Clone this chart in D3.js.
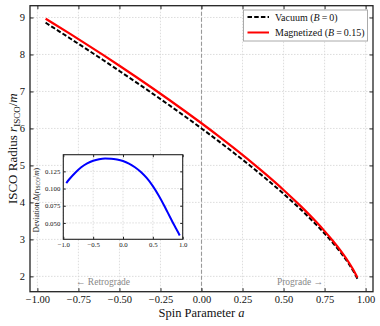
<!DOCTYPE html>
<html>
<head>
<meta charset="utf-8">
<script src="https://cdn.jsdelivr.net/npm/d3@7"></script>
<style>
  body { margin: 0; background: #fff; }
  svg { display: block; font-family: "Liberation Serif", "DejaVu Serif", serif; }
  .grid line { stroke: #d4d4d4; stroke-width: 0.8; stroke-dasharray: 1.5,1.5; }
  .ax line { stroke: #222; }
  .ax text { font-family: "Liberation Serif", "DejaVu Serif", serif; fill: #111; }
</style>
</head>
<body>
<svg width="380" height="326"></svg>
<script>
// spin values sampled along the curves
var spin = [-0.95, -0.9, -0.8, -0.7, -0.6, -0.5, -0.4, -0.3, -0.2, -0.1, 0,
            0.1, 0.2, 0.3, 0.4, 0.5, 0.6, 0.7, 0.75, 0.8, 0.85, 0.9, 0.925, 0.95];

var vacuum = [8.859, 8.717, 8.432, 8.143, 7.851, 7.554, 7.254, 6.949, 6.639, 6.323, 6.000,
              5.670, 5.329, 4.979, 4.614, 4.233, 3.829, 3.393, 3.158, 2.907, 2.633, 2.321, 2.143, 1.937];

var magnetized = [8.967, 8.831, 8.555, 8.274, 7.988, 7.695, 7.397, 7.093, 6.782, 6.465, 6.140,
                  5.806, 5.460, 5.103, 4.729, 4.337, 3.919, 3.467, 3.223, 2.964, 2.681, 2.361, 2.179, 1.969];

var deviation = [0.108, 0.1135, 0.123, 0.131, 0.1367, 0.1405, 0.1427, 0.1436, 0.1434, 0.1422, 0.140,
                 0.1363, 0.131, 0.124, 0.115, 0.1035, 0.0895, 0.0735, 0.065, 0.0565, 0.048, 0.040, 0.036, 0.0318];

var xTicks = [-1, -0.75, -0.5, -0.25, 0, 0.25, 0.5, 0.75, 1];
var yTicks = [2, 3, 4, 5, 6, 7, 8, 9];
var insetXTicks = [-1, -0.5, 0, 0.5, 1];
var insetYTicks = [0.05, 0.075, 0.1, 0.125];

var svg = d3.select("svg");
var minus = function(s){ return s.replace("-", "\u2212"); };

// main panel
var L = 30, R = 373, T = 5.7, B = 291.7;
var x = d3.scaleLinear().domain([-1.045, 1.045]).range([L, R]);
var y = d3.scaleLinear().domain([1.5855, 9.3185]).range([B, T]);

var grid = svg.append("g").attr("class", "grid");
grid.selectAll(".gx").data(xTicks).enter().append("line")
  .attr("x1", function(d){ return x(d); }).attr("x2", function(d){ return x(d); })
  .attr("y1", T).attr("y2", B);
grid.selectAll(".gy").data(yTicks).enter().append("line")
  .attr("y1", function(d){ return y(d); }).attr("y2", function(d){ return y(d); })
  .attr("x1", L).attr("x2", R);

// a = 0 divider
svg.append("line")
  .attr("x1", x(0)).attr("x2", x(0)).attr("y1", T).attr("y2", B)
  .attr("stroke", "#999").attr("stroke-width", 1.1).attr("stroke-dasharray", "4,2");

var line = function(vals) {
  return d3.line()
    .x(function(d, i){ return x(spin[i]); })
    .y(function(d){ return y(d); })
    .curve(d3.curveMonotoneX)(vals);
};

svg.append("path").attr("d", line(vacuum))
  .attr("fill", "none").attr("stroke", "#000").attr("stroke-width", 2)
  .attr("stroke-dasharray", "4.5,2.2");
svg.append("path").attr("d", line(magnetized))
  .attr("fill", "none").attr("stroke", "#ff0000").attr("stroke-width", 2.2);

// region notes
svg.append("text").attr("x", x(-0.6)).attr("y", y(1.85) + 3.5)
  .attr("text-anchor", "middle").attr("font-size", 9.5).attr("fill", "#888")
  .text("\u2190 Retrograde");
svg.append("text").attr("x", x(0.6)).attr("y", y(1.85) + 3.5)
  .attr("text-anchor", "middle").attr("font-size", 9.5).attr("fill", "#888")
  .text("Prograde \u2192");

// axes, inward ticks on all sides
var fmt2 = function(d){ return minus(d3.format(".2f")(d)); };
var ax = svg.append("g").attr("class", "ax");
ax.append("g").attr("transform", "translate(0," + B + ")")
  .call(d3.axisBottom(x).tickValues(xTicks).tickSize(-3.5).tickPadding(4).tickFormat(fmt2));
ax.append("g").attr("transform", "translate(0," + T + ")")
  .call(d3.axisTop(x).tickValues(xTicks).tickSize(-3.5).tickFormat(""));
ax.append("g").attr("transform", "translate(" + L + ",0)")
  .call(d3.axisLeft(y).tickValues(yTicks).tickSize(-3.5).tickPadding(5).tickFormat(d3.format("d")));
ax.append("g").attr("transform", "translate(" + R + ",0)")
  .call(d3.axisRight(y).tickValues(yTicks).tickSize(-3.5).tickFormat(""));
ax.selectAll("path.domain").remove();
ax.selectAll("text").attr("font-size", 10.5);
svg.append("rect").attr("x", L).attr("y", T).attr("width", R - L).attr("height", B - T)
  .attr("fill", "none").attr("stroke", "#222").attr("stroke-width", 1.3);

// axis labels
var xl = svg.append("text").attr("x", x(0)).attr("y", 316.5)
  .attr("text-anchor", "middle").attr("font-size", 12.5).attr("fill", "#111");
xl.append("tspan").text("Spin Parameter ");
xl.append("tspan").attr("font-style", "italic").text("a");

var yl = svg.append("text").attr("transform", "translate(17," + ((T + B) / 2) + ") rotate(-90)")
  .attr("text-anchor", "middle").attr("font-size", 13).attr("fill", "#111");
yl.append("tspan").text("ISCO Radius ");
yl.append("tspan").attr("font-style", "italic").text("r");
yl.append("tspan").attr("font-size", 9).attr("dy", 3).text("ISCO");
yl.append("tspan").attr("dy", -3).text("/");
yl.append("tspan").attr("font-style", "italic").text("m");

// legend
var lg = svg.append("g");
lg.append("rect").attr("x", 243.5).attr("y", 10).attr("width", 124).attr("height", 31)
  .attr("fill", "#fff").attr("stroke", "#aaa").attr("stroke-width", 1);
var legendRows = [
  { label: "Vacuum (", b: "B", rest: "\u2009=\u20090)", color: "#000", dash: "4.5,2.2" },
  { label: "Magnetized (", b: "B", rest: "\u2009=\u20090.15)", color: "#ff0000", dash: null }
];
legendRows.forEach(function(r, i) {
  var yy = 17 + i * 15.5;
  lg.append("line").attr("x1", 247.5).attr("x2", 269).attr("y1", yy).attr("y2", yy)
    .attr("stroke", r.color).attr("stroke-width", 2).attr("stroke-dasharray", r.dash);
  var t = lg.append("text").attr("x", 275).attr("y", yy + 3.5).attr("font-size", 10).attr("fill", "#111");
  t.append("tspan").text(r.label);
  t.append("tspan").attr("font-style", "italic").text(r.b);
  t.append("tspan").text(r.rest);
});

// inset: deviation
var iL = 63.3, iR = 182.7, iT = 154.7, iB = 239.3;
var ix = d3.scaleLinear().domain([-1, 1]).range([iL, iR]);
var iy = d3.scaleLinear().domain([0.0262, 0.1492]).range([iB, iT]);

var inset = svg.append("g");
inset.append("rect").attr("x", iL).attr("y", iT).attr("width", iR - iL).attr("height", iB - iT)
  .attr("fill", "#fff");
var ig = inset.append("g").attr("class", "grid");
ig.selectAll(".gx").data(insetXTicks).enter().append("line")
  .attr("x1", function(d){ return ix(d); }).attr("x2", function(d){ return ix(d); })
  .attr("y1", iT).attr("y2", iB);
ig.selectAll(".gy").data(insetYTicks).enter().append("line")
  .attr("y1", function(d){ return iy(d); }).attr("y2", function(d){ return iy(d); })
  .attr("x1", iL).attr("x2", iR);

inset.append("path")
  .attr("d", d3.line()
    .x(function(d, i){ return ix(spin[i]); })
    .y(function(d){ return iy(d); })
    .curve(d3.curveMonotoneX)(deviation))
  .attr("fill", "none").attr("stroke", "#0000ff").attr("stroke-width", 2);

var iax = inset.append("g").attr("class", "ax");
iax.append("g").attr("transform", "translate(0," + iB + ")")
  .call(d3.axisBottom(ix).tickValues(insetXTicks).tickSize(-2.5).tickPadding(3)
    .tickFormat(function(d){ return minus(d3.format(".1f")(d)); }));
iax.append("g").attr("transform", "translate(0," + iT + ")")
  .call(d3.axisTop(ix).tickValues(insetXTicks).tickSize(-2.5).tickFormat(""));
iax.append("g").attr("transform", "translate(" + iL + ",0)")
  .call(d3.axisLeft(iy).tickValues(insetYTicks).tickSize(-2.5).tickPadding(3)
    .tickFormat(d3.format(".3f")));
iax.append("g").attr("transform", "translate(" + iR + ",0)")
  .call(d3.axisRight(iy).tickValues(insetYTicks).tickSize(-2.5).tickFormat(""));
iax.selectAll("path.domain").remove();
iax.selectAll("text").attr("font-size", 6.8);
inset.append("rect").attr("x", iL).attr("y", iT).attr("width", iR - iL).attr("height", iB - iT)
  .attr("fill", "none").attr("stroke", "#222").attr("stroke-width", 1.1);

var il = inset.append("text")
  .attr("transform", "translate(38.5,200) rotate(-90)")
  .attr("text-anchor", "middle").attr("font-size", 7.5).attr("fill", "#111");
il.append("tspan").text("Deviation \u0394(");
il.append("tspan").attr("font-style", "italic").text("r");
il.append("tspan").attr("font-size", 5.5).attr("dy", 1.5).text("ISCO");
il.append("tspan").attr("dy", -1.5).text("/");
il.append("tspan").attr("font-style", "italic").text("m");
il.append("tspan").text(")");
</script>
</body>
</html>
